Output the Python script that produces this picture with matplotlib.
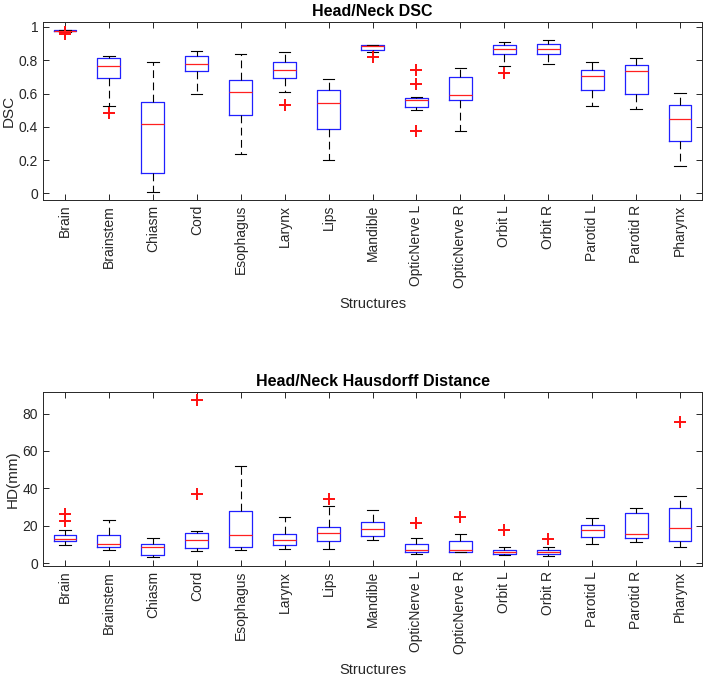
import matplotlib
matplotlib.use("Agg")
import matplotlib.pyplot as plt

structures = ["Brain", "Brainstem", "Chiasm", "Cord", "Esophagus", "Larynx", "Lips",
              "Mandible", "OpticNerve L", "OpticNerve R", "Orbit L", "Orbit R",
              "Parotid L", "Parotid R", "Pharynx"]

# DSC summary stats (whisker low, q1, median, q3, whisker high)
dsc_lo = [0.970, 0.526, 0.008, 0.600, 0.238, 0.608, 0.202, 0.850, 0.504, 0.374, 0.768, 0.780, 0.524, 0.510, 0.162]
dsc_q1 = [0.974, 0.696, 0.120, 0.734, 0.472, 0.692, 0.386, 0.864, 0.522, 0.560, 0.836, 0.836, 0.620, 0.600, 0.316]
dsc_med = [0.977, 0.766, 0.414, 0.780, 0.608, 0.744, 0.546, 0.884, 0.564, 0.590, 0.866, 0.870, 0.708, 0.736, 0.444]
dsc_q3 = [0.980, 0.816, 0.552, 0.826, 0.680, 0.792, 0.620, 0.890, 0.576, 0.700, 0.890, 0.900, 0.744, 0.774, 0.532]
dsc_hi = [0.982, 0.826, 0.792, 0.858, 0.836, 0.850, 0.690, 0.892, 0.580, 0.752, 0.910, 0.920, 0.790, 0.814, 0.606]
dsc_out = [[0.960, 0.968], [0.484], [], [], [], [0.530], [], [0.820],
           [0.744, 0.656, 0.372], [], [0.724], [], [], [], []]

# Hausdorff distance summary stats (mm)
hd_lo = [9.8, 6.8, 3.4, 6.6, 6.8, 7.6, 7.8, 12.3, 4.8, 6.0, 4.3, 4.1, 10.3, 11.2, 8.5]
hd_q1 = [11.7, 8.7, 4.4, 8.2, 8.9, 9.8, 11.9, 14.6, 5.9, 6.2, 4.8, 4.8, 14.0, 13.5, 12.1]
hd_med = [13.0, 10.1, 8.4, 12.3, 15.1, 12.4, 16.2, 18.5, 6.9, 7.3, 5.9, 5.9, 17.6, 15.8, 18.8]
hd_q3 = [15.1, 14.9, 10.1, 16.2, 28.1, 15.8, 19.6, 22.0, 10.1, 11.7, 6.9, 7.3, 20.3, 27.0, 29.3]
hd_hi = [17.6, 23.1, 13.2, 17.4, 51.9, 24.5, 30.6, 28.3, 13.3, 15.5, 8.5, 8.9, 24.4, 29.3, 36.1]
hd_out = [[26.1, 22.8], [], [], [87.1, 37.0], [], [], [34.1], [],
          [21.7], [24.9], [17.6], [12.8], [], [], [75.6]]

plt.rcParams["font.family"] = ["Liberation Sans", "DejaVu Sans"]
TXT = "#262626"


def make_stats(lo, q1, med, q3, hi, out):
    return [dict(whislo=a, q1=b, med=c, q3=d, whishi=e, fliers=f)
            for a, b, c, d, e, f in zip(lo, q1, med, q3, hi, out)]


def draw_panel(ax, stats, title, ylabel, ylim, yticks, yticklabels):
    n = len(stats)
    ax.bxp(stats, positions=range(1, n + 1), widths=0.52, capwidths=0.26,
           showfliers=True, patch_artist=False,
           boxprops=dict(color="#2020ff", lw=0.9),
           medianprops=dict(color="#ff2020", lw=0.9),
           whiskerprops=dict(color="black", lw=0.8, ls=(0, (7, 4))),
           capprops=dict(color="black", lw=0.8),
           flierprops=dict(marker="+", markeredgecolor="#ff1010", markersize=8,
                           markeredgewidth=1.4, ls="none"))
    ax.set_xlim(0.5, n + 0.5)
    ax.set_ylim(*ylim)
    ax.set_yticks(yticks)
    ax.set_yticklabels(yticklabels)
    ax.set_xticks(range(1, n + 1))
    ax.set_xticklabels(structures, rotation=90, va="top", ha="center")
    ax.tick_params(direction="in", top=True, right=True, length=4,
                   labelsize=10, colors=TXT, width=0.7)
    for s in ax.spines.values():
        s.set_color(TXT)
        s.set_linewidth(0.7)
    ax.set_title(title, fontsize=11.5, fontweight="bold", color="black", pad=4)
    ax.set_ylabel(ylabel, fontsize=11, color=TXT, labelpad=2)
    ax.set_xlabel("Structures", fontsize=10.5, color=TXT, labelpad=6)


fig = plt.figure(figsize=(7.08, 6.78), dpi=100)
ax1 = fig.add_axes([43 / 708, 1 - 200 / 678, 659 / 708, 178 / 678])
ax2 = fig.add_axes([43 / 708, 1 - 566 / 678, 659 / 708, 174 / 678])

draw_panel(ax1, make_stats(dsc_lo, dsc_q1, dsc_med, dsc_q3, dsc_hi, dsc_out),
           "Head/Neck DSC", "DSC", (-0.04, 1.03),
           [0, 0.2, 0.4, 0.6, 0.8, 1.0], ["0", "0.2", "0.4", "0.6", "0.8", "1"])
draw_panel(ax2, make_stats(hd_lo, hd_q1, hd_med, hd_q3, hd_hi, hd_out),
           "Head/Neck Hausdorff Distance", "HD(mm)", (-1.5, 91.5),
           [0, 20, 40, 60, 80], ["0", "20", "40", "60", "80"])

fig.savefig("out.png", dpi=100)
